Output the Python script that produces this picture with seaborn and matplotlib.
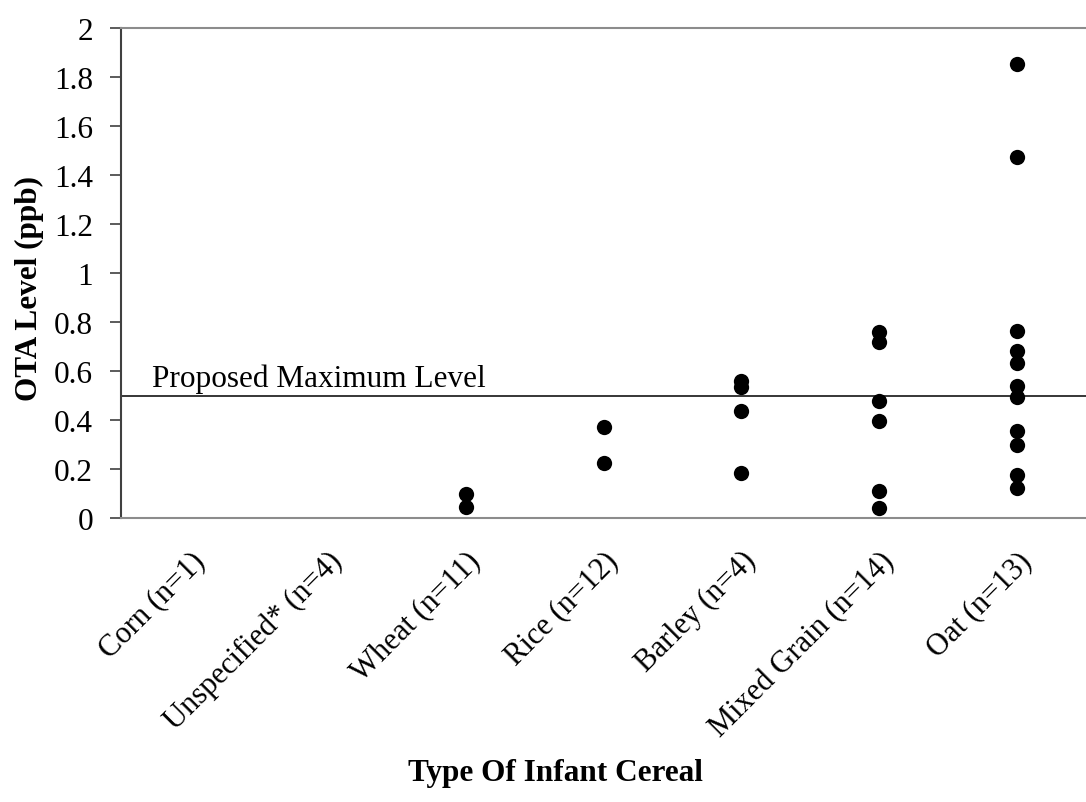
import pandas as pd
import matplotlib.pyplot as plt
import seaborn as sns

# Data
categories = ["Corn (n=1)", "Unspecified* (n=4)", "Wheat (n=11)", "Rice (n=12)",
              "Barley (n=4)", "Mixed Grain (n=14)", "Oat (n=13)"]
wheat = [0.098, 0.045]
rice = [0.37, 0.225]
barley = [0.559, 0.535, 0.437, 0.184]
mixed_grain = [0.759, 0.718, 0.478, 0.396, 0.110, 0.041]
oat = [1.853, 1.473, 0.763, 0.682, 0.633, 0.539, 0.494, 0.355, 0.298, 0.176, 0.122]
yticks = [0, 0.2, 0.4, 0.6, 0.8, 1, 1.2, 1.4, 1.6, 1.8, 2]
ytick_labels = ["0", "0.2", "0.4", "0.6", "0.8", "1", "1.2", "1.4", "1.6", "1.8", "2"]
max_level = 0.5

# long format table for seaborn
df = pd.DataFrame({
    "cereal": [categories[2]] * len(wheat) + [categories[3]] * len(rice)
              + [categories[4]] * len(barley) + [categories[5]] * len(mixed_grain)
              + [categories[6]] * len(oat),
    "ota": wheat + rice + barley + mixed_grain + oat,
})

sns.set_style("white")
plt.rcParams["font.family"] = ["Liberation Serif", "DejaVu Serif"]
plt.rcParams["text.color"] = "black"
plt.rcParams["axes.labelcolor"] = "black"
plt.rcParams["xtick.labelcolor"] = "black"
plt.rcParams["ytick.labelcolor"] = "black"

fig = plt.figure(figsize=(10.86, 8.03), dpi=100)
ax = fig.add_axes([121 / 1086, 1 - 519 / 803, 1 - 121 / 1086, (519 - 29) / 803])

sns.stripplot(data=df, x="cereal", y="ota", order=categories, jitter=False,
              color="black", size=11, linewidth=0, ax=ax)

ax.axhline(max_level, color="black", linewidth=1.1)
ax.text(0.032, max_level + 0.04, "Proposed Maximum Level", transform=ax.get_yaxis_transform(),
        fontsize=22.5, color="black", ha="left", va="baseline")

ax.set_ylim(0, 2)
ax.set_xlim(-0.5, len(categories) - 0.5)
ax.set_yticks(yticks)
ax.set_yticklabels(ytick_labels, fontsize=22.5)
ax.tick_params(axis="y", direction="out", length=8, width=1.2, color="#404040", pad=12, left=True)
ax.tick_params(axis="x", length=0, pad=20)
ax.set_xticks(range(len(categories)))
ax.set_xticklabels(categories, fontsize=22, rotation=45, ha="right", rotation_mode="anchor")

for side in ["top", "bottom"]:
    ax.spines[side].set_color("#8c8c8c")
    ax.spines[side].set_linewidth(1.5)
ax.spines["left"].set_color("#404040")
ax.spines["left"].set_linewidth(1.5)
ax.spines["right"].set_visible(False)

ax.set_xlabel("Type Of Infant Cereal", fontsize=22.5, fontweight="bold")
ax.set_ylabel("OTA Level (ppb)", fontsize=22.5, fontweight="bold")
ax.xaxis.set_label_coords(0.45, -0.49)
ax.yaxis.set_label_coords(-0.08, 0.47)

fig.savefig("out.png", dpi=100)
